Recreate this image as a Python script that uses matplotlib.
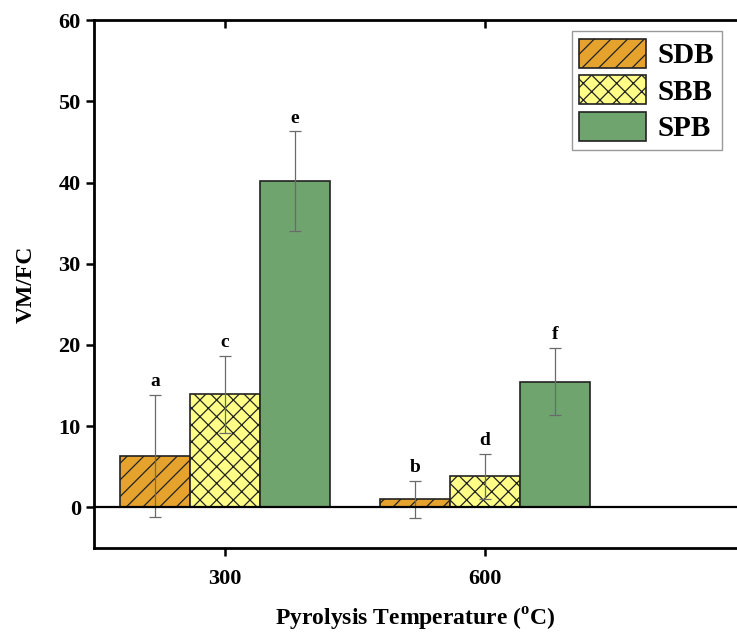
import numpy as np
import matplotlib
matplotlib.use('Agg')
import matplotlib.pyplot as plt
from matplotlib.lines import TICKDOWN

plt.rcParams['font.family'] = ['Liberation Serif', 'DejaVu Serif']
plt.rcParams['font.weight'] = 'bold'
plt.rcParams['mathtext.fontset'] = 'custom'
plt.rcParams['mathtext.rm'] = 'Liberation Serif:bold'
plt.rcParams['mathtext.bf'] = 'Liberation Serif:bold'
plt.rcParams['hatch.linewidth'] = 0.9

temps = ['300', '600']
series = ['SDB', 'SBB', 'SPB']
sdb = [6.3, 1.0]
sbb = [13.9, 3.8]
spb = [40.2, 15.5]
sdb_err = [7.5, 2.3]
sbb_err = [4.7, 2.8]
spb_err = [6.1, 4.1]
letters = [['a', 'b'], ['c', 'd'], ['e', 'f']]

colors = ['#E5A32E', '#FFFF88', '#6FA46F']
hatches = ['//', 'xx', '']

fig = plt.figure(figsize=(7.37, 6.32), dpi=100)
ax = fig.add_axes([0.1275, 0.133, 0.8725, 0.835])

x = np.arange(len(temps))
width = 0.27
values = [sdb, sbb, spb]
errors = [sdb_err, sbb_err, spb_err]

for i, (vals, errs) in enumerate(zip(values, errors)):
    pos = x + (i - 1) * width
    ax.bar(pos, vals, width, color=colors[i], hatch=hatches[i],
           edgecolor='#222222', linewidth=1.2, label=series[i], zorder=2)
    ax.errorbar(pos, vals, yerr=errs, fmt='none', ecolor='#6a6a6a',
                elinewidth=0.9, capsize=4, capthick=0.9, zorder=3)
    for p, v, e, t in zip(pos, vals, errs, letters[i]):
        ax.text(p, v + e + 0.6, t, ha='center', va='bottom',
                fontsize=14, fontweight='bold')

ax.axhline(0, color='black', linewidth=1.6, zorder=4)

ax.set_xlim(-0.504, 1.97)
ax.set_ylim(-5, 60)
ax.set_xticks(x)
ax.set_xticklabels(temps)
ax.set_yticks(np.arange(0, 61, 10))
ax.tick_params(axis='both', labelsize=16, width=1.8, length=6, direction='out')
ax.tick_params(axis='x', pad=9, top=True)
for t in ax.get_xticklabels() + ax.get_yticklabels():
    t.set_fontweight('bold')

# top ticks point into the plot
for tick in ax.xaxis.get_major_ticks():
    tick.tick2line.set_marker(TICKDOWN)

for side in ['left', 'bottom', 'top']:
    ax.spines[side].set_linewidth(2)
ax.spines['right'].set_visible(False)

ax.set_ylabel('VM/FC', fontsize=17, fontweight='bold', labelpad=16)
ax.set_xlabel(r'Pyrolysis Temperature ($^{\mathrm{o}}$C)', fontsize=17,
              fontweight='bold', labelpad=12)

leg = ax.legend(loc='upper left', bbox_to_anchor=(0.743, 0.979),
                borderaxespad=0, fontsize=21, handlelength=2.3,
                handleheight=1.15, handletextpad=0.4, borderpad=0.25,
                labelspacing=0.22, fancybox=False, edgecolor='#999999',
                framealpha=1)
leg.get_frame().set_linewidth(1.0)
for txt in leg.get_texts():
    txt.set_fontweight('bold')

fig.savefig('out.png', dpi=100)
